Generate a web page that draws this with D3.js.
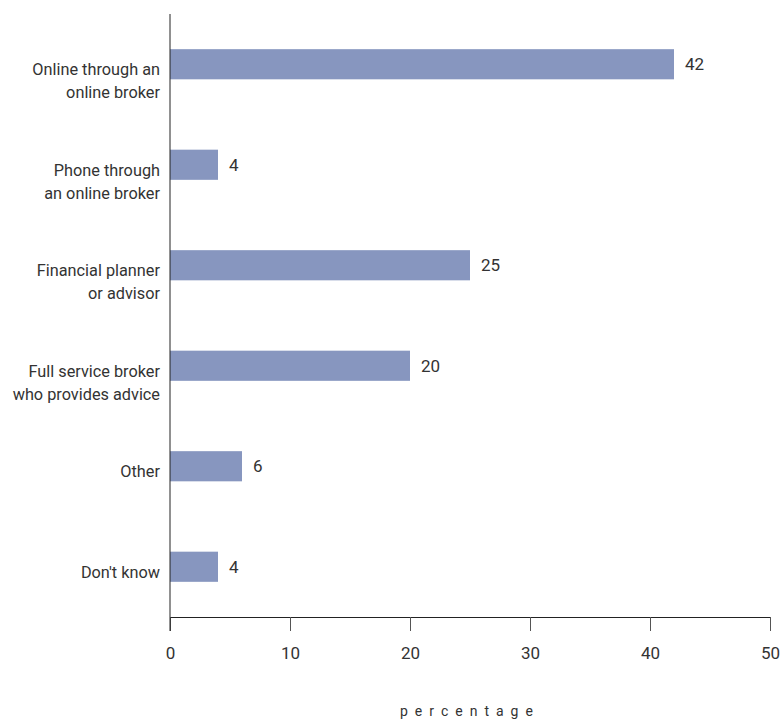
<!DOCTYPE html>
<html><head><meta charset="utf-8">
<script src="https://cdn.jsdelivr.net/npm/d3@7"></script>
<style>
body{margin:0;background:#fff;}
text{font-family:"Roboto","DejaVu Sans Condensed",sans-serif;font-weight:400;fill:#333;}
</style></head>
<body><svg id="c" width="784" height="722"></svg>
<script>
const categories = [
  ["Online through an","online broker"],
  ["Phone through","an online broker"],
  ["Financial planner","or advisor"],
  ["Full service broker","who provides advice"],
  ["Other"],
  ["Don't know"]
];
const values = [42, 4, 25, 20, 6, 4];
const xTicks = [0, 10, 20, 30, 40, 50];
const xTitle = "percentage";

(function(){
const svg = d3.select("#c");
const mLeft = 170, mRight = 770, mTop = 14, mBottom = 617;
const keys = categories.map(d => d.join(" "));
const x = d3.scaleLinear().domain([0, 50]).range([mLeft, mRight]);
const y = d3.scaleBand().domain(keys).range([mTop, mBottom]).paddingInner(0.7).paddingOuter(0.35);

// bars
svg.selectAll("rect.bar").data(values).enter().append("rect")
  .attr("x", x(0))
  .attr("y", (d,i) => y(keys[i]))
  .attr("width", d => x(d) - x(0))
  .attr("height", y.bandwidth())
  .attr("fill", "#8796bf");

// value labels
svg.selectAll("text.val").data(values).enter().append("text")
  .attr("x", d => x(d) + 11)
  .attr("y", (d,i) => y(keys[i]) + y.bandwidth()/2 + 6)
  .attr("font-size", 17)
  .text(d => d);

// category labels
categories.forEach((lines, i) => {
  const cy = y(keys[i]) + y.bandwidth()/2;
  const t = svg.append("text").attr("text-anchor", "end").attr("font-size", 16.3);
  lines.forEach((ln, j) => {
    t.append("tspan").attr("x", 160).attr("y", cy + 11 + j*23).text(ln);
  });
});

// x axis
const xAxis = d3.axisBottom(x).tickValues(xTicks).tickSize(14).tickPadding(16).tickSizeOuter(0);
const gx = svg.append("g").attr("transform", `translate(0,${mBottom})`).call(xAxis);
gx.select(".domain").attr("stroke", "#222");
gx.selectAll(".tick line").attr("stroke", "#555");
gx.selectAll(".tick text").attr("font-size", 17).attr("fill", "#333")
  .attr("font-family", '"Roboto",sans-serif');

// y axis line
svg.append("line").attr("x1", mLeft).attr("x2", mLeft).attr("y1", mTop).attr("y2", mBottom + 14)
  .attr("stroke", "#222");

// x title
svg.append("text").attr("x", 400).attr("y", 716)
  .attr("font-size", 14)
  .attr("letter-spacing", "7px")
  .text(xTitle);
})();
</script></body></html>
